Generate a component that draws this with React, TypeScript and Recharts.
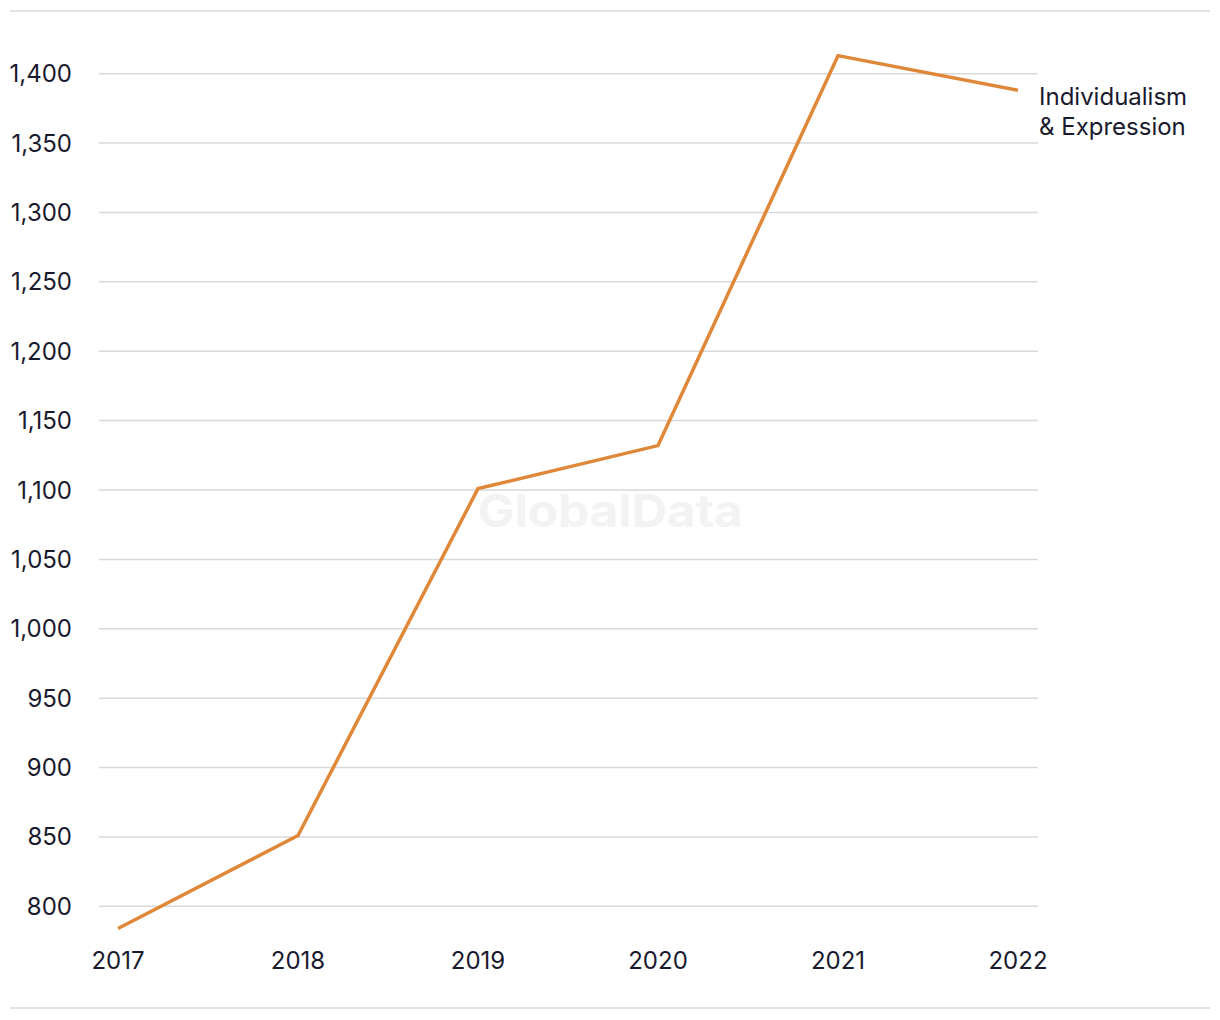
import React from "react";
import { LineChart, Line, XAxis, YAxis, ReferenceLine, LabelList } from "recharts";

const years = ["2017", "2018", "2019", "2020", "2021", "2022"];
const values = [784, 851, 1101, 1132, 1413, 1388];
const yTicks = [800, 850, 900, 950, 1000, 1050, 1100, 1150, 1200, 1250, 1300, 1350, 1400];
const seriesName = ["Individualism", "& Expression"];

const data = years.map((y, i) => ({ year: y, value: values[i] }));

const FONT = "Inter, 'Noto Sans', sans-serif";
const TEXT = "#1a1a2e";
const ORANGE = "#E0883A";

const EndLabel = (props: any) => {
  const { x, y, index } = props;
  if (index !== values.length - 1) return null;
  return (
    <text x={x + 21} y={y + 6} fill={TEXT} fontFamily={FONT} fontSize={24}>
      <tspan x={x + 21} dy="0.35em">{seriesName[0]}</tspan>
      <tspan x={x + 21} dy={30}>{seriesName[1]}</tspan>
    </text>
  );
};

export default function App() {
  return (
    <div style={{ position: "absolute", left: 0, top: 0, width: 1220, height: 1020, background: "#fff" }}>
      <svg width={1220} height={1020} style={{ position: "absolute", left: 0, top: 0 }}>
        <line x1={10} x2={1210} y1={11} y2={11} stroke="#d9d9d9" strokeWidth={1.5} />
        <line x1={10} x2={1210} y1={1008} y2={1008} stroke="#d9d9d9" strokeWidth={1.5} />
        <text x={610} y={527} textAnchor="middle" fontFamily={FONT} fontWeight={700} fontSize={45} fill="#f3f3f3" textLength={265} lengthAdjust="spacingAndGlyphs">
          GlobalData
        </text>
      </svg>
      <div style={{ position: "absolute", left: 0, top: 0 }}>
        <LineChart width={1220} height={1020} data={data} margin={{ top: 39, right: 182, bottom: 39, left: 0 }}>
          {yTicks.map((t) => (
            <ReferenceLine key={t} y={t} stroke="#d9d9d9" strokeWidth={1.5} ifOverflow="visible" />
          ))}
          <XAxis
            dataKey="year"
            axisLine={false}
            tickLine={false}
            tickSize={0}
            tickMargin={11}
            height={40}
            padding={{ left: 19, right: 20 }}
            tick={{ fill: TEXT, fontFamily: FONT, fontSize: 24 }}
            interval={0}
          />
          <YAxis
            domain={[775, 1425]}
            ticks={yTicks}
            axisLine={false}
            tickLine={false}
            tickSize={0}
            tickMargin={27}
            width={99}
            tickFormatter={(v: number) => v.toLocaleString("en-US")}
            tick={{ fill: TEXT, fontFamily: FONT, fontSize: 24 }}
            interval={0}
          />
          <Line
            dataKey="value"
            stroke={ORANGE}
            strokeWidth={3.5}
            dot={false}
            activeDot={false}
            isAnimationActive={false}
            strokeLinejoin="miter"
          >
            <LabelList dataKey="value" content={EndLabel} />
          </Line>
        </LineChart>
      </div>
    </div>
  );
}
